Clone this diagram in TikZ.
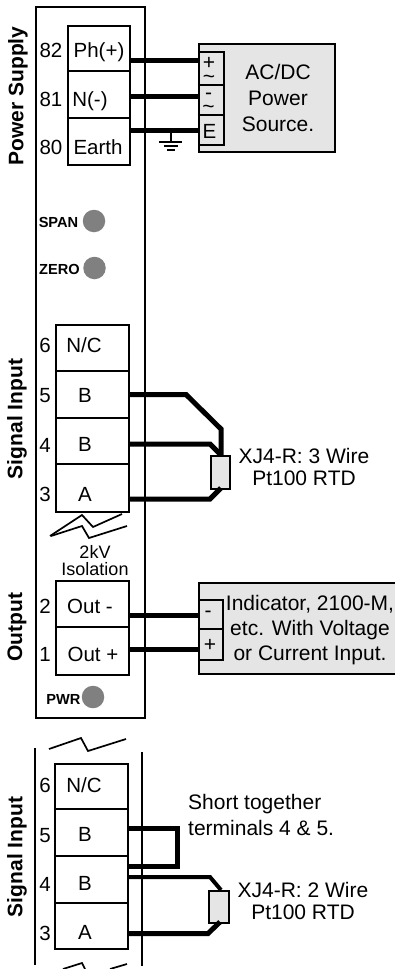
\documentclass[tikz,border=0pt]{standalone}
\usepackage{fontspec}
\setmainfont{Liberation Sans}
\definecolor{panel}{HTML}{E5E5E5}
\definecolor{led}{HTML}{808080}
\tikzset{
  x=1pt,y=-1pt,
  frame/.style={line width=2pt,draw=black},
  term/.style={draw=black,line width=2pt,fill=white,minimum width=#1,inner sep=0,anchor=north west},
  divider/.style={line width=2pt,draw=black},
  wire/.style={line width=5pt,draw=black,line join=miter},
  thinwire/.style={line width=4pt,draw=black,line join=miter},
  lbl/.style={inner sep=0,font=\fontsize{20.5}{22}\selectfont,text height=14.5pt,text depth=0pt},
  sign/.style={inner sep=0,font=\fontsize{21}{22}\selectfont},
  signpair/.style={inner sep=0,align=center,font=\fontsize{21}{13.5}\selectfont},
  blk/.style={inner sep=0,align=center},
  sect/.style={inner sep=0,rotate=90,font=\fontsize{21}{22}\bfseries\selectfont},
  ledlbl/.style={inner sep=0,font=\fontsize{14.6}{16}\bfseries\selectfont,text height=10.5pt,text depth=0pt},
  leddot/.style={circle,fill=led,minimum size=22.5pt,inner sep=0},
  zig/.style={line width=1.7pt,draw=black,line join=miter},
  rtd/.style={rectangle,draw=black,line width=2pt,fill=panel,inner sep=0,anchor=north west},
  panelbox/.style={rectangle,draw=black,line width=2pt,fill=panel,inner sep=0,anchor=north west},
}
\begin{document}
\begin{tikzpicture}
\useasboundingbox (0,0) rectangle (394,969);
% main enclosure
\node[rectangle,frame,fill=white,minimum width=109.5pt,minimum height=711pt,inner sep=0,anchor=north west] (encl) at (34.5,6) {};
% section titles
\node[sect] (ps) at (18,96) {Power Supply};
\node[sect] (si) at (17,419) {Signal Input};
\node[sect] (ot) at (17,627) {Output};
\node[sect] (si2) at (17,857) {Signal Input};
% power terminals
\node[term=62pt,minimum height=139pt] (pbox) at (67,25) {};
\draw[divider] (67,71) -- (129,71) (67,118) -- (129,118);
\node[lbl] (n82) at (51,50) {82};
\node[lbl] (n81) at (51,99) {81};
\node[lbl] (n80) at (51,147) {80};
\node[lbl] (tph) at (99,50) {Ph(+)};
\node[lbl] (tn) at (90,99) {N(-)};
\node[lbl] (te) at (98,147) {Earth};
% source
\node[panelbox,minimum width=136.5pt,minimum height=108pt] (src) at (197.5,43) {};
\node[panelbox,minimum width=25.5pt,minimum height=93pt] (srct) at (197.5,51) {};
\draw[divider] (197.5,85) -- (223,85) (197.5,115) -- (223,115);
\node[signpair] (sp) at (209,70.5) {+\\\textasciitilde};
\node[signpair] (sm) at (208.5,103.5) {-\\\textasciitilde};
\node[lbl] (se) at (209.5,131) {E};
\node[blk,font=\fontsize{21}{26}\selectfont] (srclbl) at (278,98) {AC/DC\\Power\\Source.};
% power wires
\coordinate (w82a) at (129,60.5); \coordinate (w82b) at (197.5,60.5);
\coordinate (w81a) at (129,96); \coordinate (w81b) at (197.5,96);
\coordinate (w80a) at (129,130); \coordinate (w80b) at (197.5,130);
\draw[wire] (w82a) -- (w82b);
\draw[wire] (w81a) -- (w81b);
\draw[wire] (w80a) -- (w80b);
% ground
\coordinate (g0) at (170.5,130); \coordinate (g1) at (170.5,141.5);
\draw[line width=2pt] (g0) -- (g1);
\draw[line width=2pt] (159,141.5) -- (182,141.5);
\draw[line width=2pt] (164,145.5) -- (178,145.5);
\draw[line width=2pt] (167,149.5) -- (175,149.5);
% LEDs
\node[ledlbl] (spanl) at (58.5,222) {SPAN};
\node[leddot] (spand) at (94,221) {};
\node[ledlbl] (zerol) at (59.5,269) {ZERO};
\node[leddot] (zerod) at (94.5,268) {};
\node[ledlbl] (pwrl) at (63.5,699) {PWR};
\node[leddot] (pwrd) at (93,697) {};
% signal input
\node[term=73.5pt,minimum height=187pt] (sbox) at (54.5,324) {};
\draw[divider] (54.5,371) -- (128,371) (54.5,417.5) -- (128,417.5) (54.5,464) -- (128,464);
\node[lbl] (n6) at (45,345) {6};
\node[lbl] (n5) at (45,395) {5};
\node[lbl] (n4) at (45,445) {4};
\node[lbl] (n3) at (45,494) {3};
\node[lbl] (tnc) at (84,345) {N/C};
\node[lbl] (tb5) at (85,395) {B};
\node[lbl] (tb4) at (85,444) {B};
\node[lbl] (ta) at (85,494) {A};
\node[rtd,minimum width=19pt,minimum height=33pt] (rtda) at (210,455) {};
\coordinate (s5) at (128,394.5); \coordinate (s4) at (128,444); \coordinate (s3) at (128,499);
\draw[wire] (s5) -- (186,394.5) -- (221,429) -- (221,455);
\draw[wire] (s4) -- (210,444) -- (221,455);
\draw[wire] (s3) -- (210,499) -- (221,488);
\node[blk,font=\fontsize{21}{22}\selectfont] (rtdal) at (304,467) {XJ4-R: 3 Wire\\Pt100 RTD};
% isolation
\draw[zig] (50,536) -- (82,515) -- (93,527) -- (122,514);
\draw[zig] (51,536) -- (82,526) -- (89,538) -- (127,526);
\node[blk,font=\fontsize{18}{17}\selectfont] (iso) at (95,561) {2kV\\Isolation};
% output
\node[term=73.5pt,minimum height=94pt] (obox) at (54.5,580) {};
\draw[divider] (54.5,627) -- (128,627);
\node[lbl] (n2) at (45,606) {2};
\node[lbl] (n1) at (45,654) {1};
\node[lbl] (tom) at (90,606) {Out -};
\node[lbl] (top) at (93,654) {Out +};
\node[panelbox,minimum width=200pt,minimum height=91pt] (ind) at (197.5,582) {};
\node[panelbox,minimum width=24.5pt,minimum height=60pt] (indt) at (197.5,599) {};
\draw[divider] (197.5,629) -- (222,629);
\node[sign] (im) at (208,614) {-};
\node[sign] (ip) at (210,645) {+};
\coordinate (o2a) at (128,615); \coordinate (o2b) at (197.5,615);
\coordinate (o1a) at (128,649); \coordinate (o1b) at (197.5,649);
\draw[wire] (o2a) -- (o2b);
\draw[wire] (o1a) -- (o1b);
\node[blk,font=\fontsize{21}{25}\selectfont] (indl) at (310,630) {Indicator, 2100-M,\\etc. With Voltage\\or Current Input.};
% lower detail
\coordinate (la) at (34.5,748); \coordinate (lb) at (34.5,965);
\coordinate (ra) at (142,752); \coordinate (rb) at (142,966);
\draw[frame] (la) -- (lb);
\draw[frame] (ra) -- (rb);
\draw[zig] (49,749) -- (81,738) -- (88,751) -- (126,739);
\draw[zig] (63,969) -- (82,963) -- (85,969);
\draw[zig] (110,969) -- (127,964);
\node[term=73.5pt,minimum height=185pt] (lbox) at (53.5,763) {};
\draw[divider] (53.5,809) -- (127,809) (53.5,856) -- (127,856) (53.5,903) -- (127,903);
\node[lbl] (m6) at (45,785) {6};
\node[lbl] (m5) at (45,835) {5};
\node[lbl] (m4) at (45,884) {4};
\node[lbl] (m3) at (45,933) {3};
\node[lbl] (unc) at (84,785) {N/C};
\node[lbl] (ub5) at (85,834) {B};
\node[lbl] (ub4) at (85,883) {B};
\node[lbl] (ua) at (85,932) {A};
\node[rtd,minimum width=20pt,minimum height=32pt] (rtdb) at (208,890) {};
\coordinate (u5) at (127,828); \coordinate (u4a) at (127,866); \coordinate (u4b) at (127,877); \coordinate (u3) at (127,933.5);
\draw[wire] (u5) -- (177,828) -- (177,866) -- (u4a);
\draw[thinwire] (u4b) -- (210,877) -- (221,890);
\draw[wire] (u3) -- (208,933.5) -- (220,922);
\node[blk,font=\fontsize{21}{26}\selectfont,anchor=west,align=left] (short) at (188,815) {Short together\\terminals 4 \& 5.};
\node[blk,font=\fontsize{21}{22}\selectfont] (rtdbl) at (303,901) {XJ4-R: 2 Wire\\Pt100 RTD};
\end{tikzpicture}
\end{document}
